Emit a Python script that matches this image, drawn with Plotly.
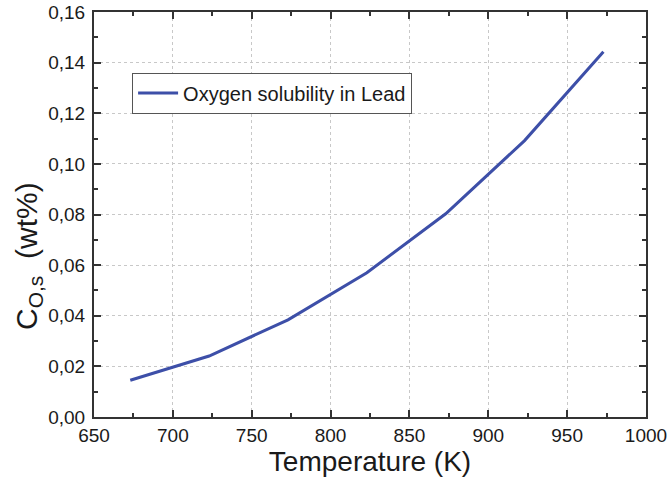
import plotly.graph_objects as go

temperature = [673, 723, 773, 823, 873, 923, 973]
solubility = [0.0145, 0.0241, 0.0384, 0.0570, 0.0803, 0.1092, 0.1443]
series_name = "Oxygen solubility in Lead"

fig = go.Figure()
fig.add_trace(go.Scatter(
    x=temperature, y=solubility, mode="lines", name=series_name,
    line=dict(color="#3D4FA8", width=3),
))

axis_common = dict(
    showline=True, linecolor="#333333", linewidth=2, mirror="ticks",
    ticks="inside", ticklen=7, tickwidth=2, tickcolor="#333333",
    showgrid=True, gridcolor="#c8c8c8", griddash="dot", gridwidth=1,
    zeroline=False, automargin=False,
    tickfont=dict(family="Liberation Sans, Arial", size=19, color="#1a1a1a"),
)

fig.update_layout(
    width=670, height=481,
    margin=dict(l=94, r=24, t=12, b=64),
    paper_bgcolor="white", plot_bgcolor="white",
    separators=", ",
    showlegend=True,
    legend=dict(
        x=0.069, y=0.80, xanchor="left", yanchor="middle",
        bordercolor="#555555", borderwidth=1, bgcolor="white",
        font=dict(family="Liberation Sans, Arial", size=20, color="#1a1a1a"),
        itemwidth=40,
    ),
    xaxis=dict(
        range=[650, 1000], dtick=50, tick0=650,
        minor=dict(ticks="inside", ticklen=4, dtick=25, tickcolor="#333333", tickwidth=2, showgrid=False),
        title=dict(text="Temperature (K)", standoff=4,
                   font=dict(family="Liberation Sans, Arial", size=28, color="#1a1a1a")),
        **axis_common,
    ),
    yaxis=dict(
        range=[0, 0.16], dtick=0.02, tickformat=".2f", ticklabelstandoff=3,
        minor=dict(ticks="inside", ticklen=4, dtick=0.01, tickcolor="#333333", tickwidth=2, showgrid=False),
        title=dict(text="C<sub>O,s</sub>&nbsp;&nbsp;(wt%)&nbsp;&nbsp;&nbsp;&nbsp;&nbsp;&nbsp;&nbsp;&nbsp;&nbsp;&nbsp;", standoff=2,
                   font=dict(family="Liberation Sans, Arial", size=30, color="#1a1a1a")),
        **axis_common,
    ),
)

fig.write_html("out.html")
